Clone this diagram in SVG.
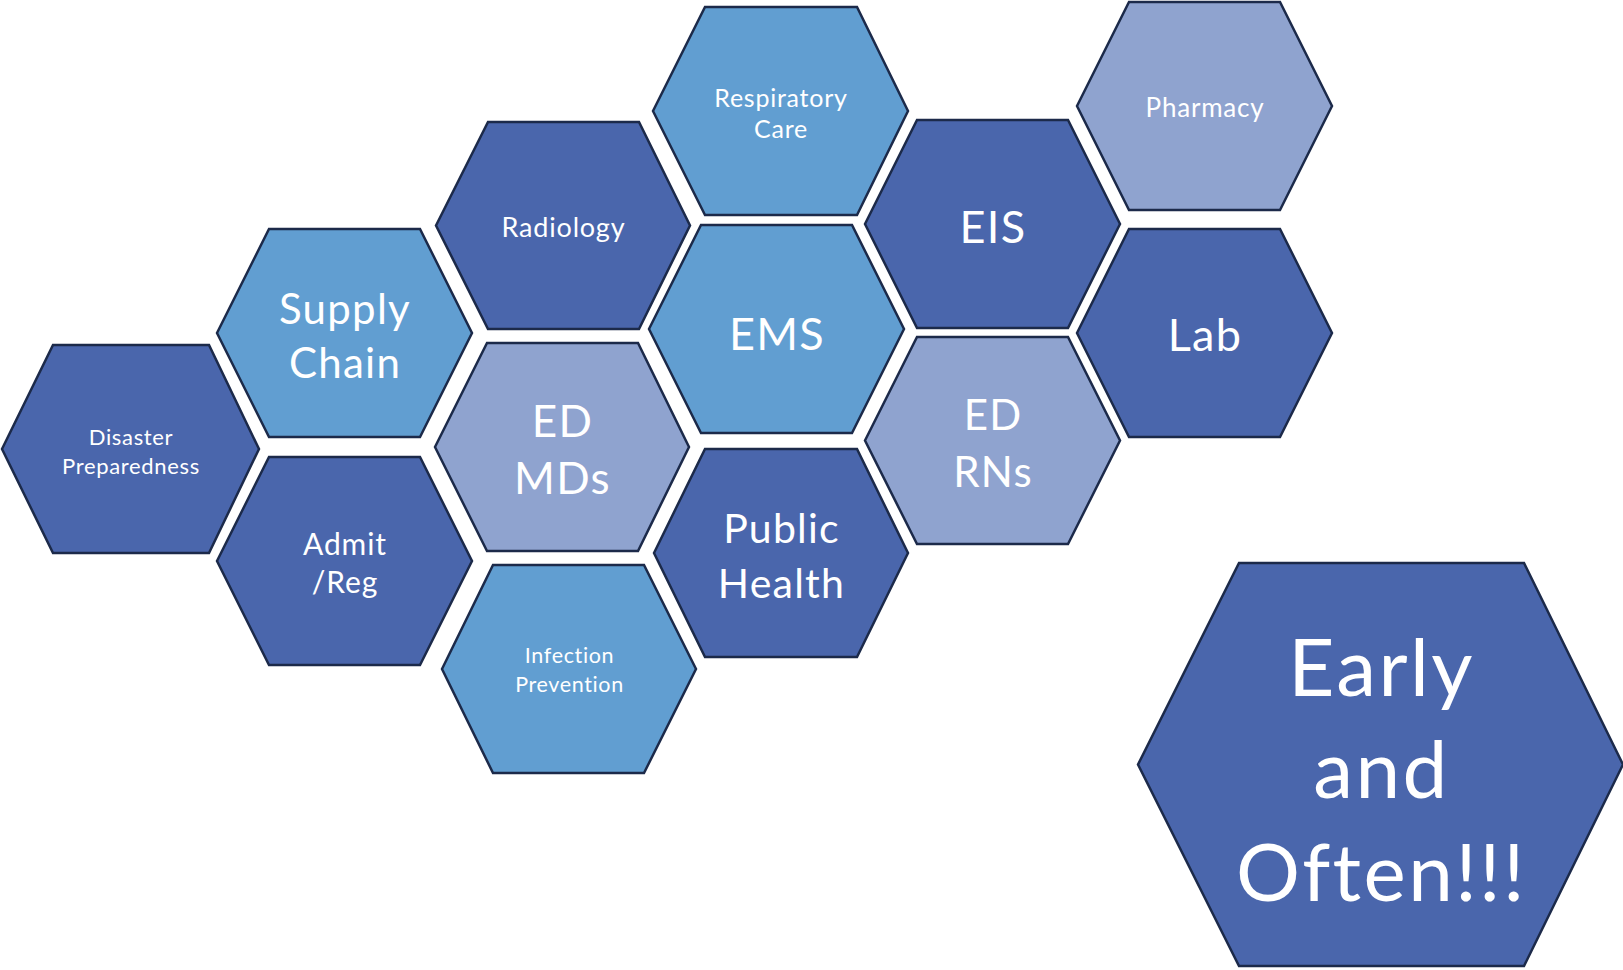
<svg xmlns="http://www.w3.org/2000/svg" width="1623" height="970" viewBox="0 0 1623 970">
<style>
.hex{stroke:#1C2A4A;stroke-width:2.5;stroke-linejoin:miter}
.dk{fill:#4A66AC}
.lt{fill:#619ED1}
.lv{fill:#8FA3CF}
text{font-family:Lato,"Open Sans","Liberation Sans",sans-serif;fill:#FFFFFF;text-anchor:middle;letter-spacing:0.03em}
</style>
<rect width="1623" height="970" fill="#FFFFFF"/>
<g id="connectors"></g>
<g id="respiratory-care">
<polygon class="hex lt" points="653,111 705,7 857,7 908,111 857,215 705,215"/>
<text x="781" y="107" font-size="25">Respiratory</text>
<text x="781" y="138" font-size="25">Care</text>
</g>
<g id="pharmacy">
<polygon class="hex lv" points="1077,106 1129,2 1280,2 1332,106 1280,210 1129,210"/>
<text x="1205" y="117" font-size="26">Pharmacy</text>
</g>
<g id="radiology">
<polygon class="hex dk" points="436,225.5 488,122 639,122 690,225.5 639,329 488,329"/>
<text x="563.5" y="237" font-size="27">Radiology</text>
</g>
<g id="eis">
<polygon class="hex dk" points="865,224 917,120 1068,120 1120,224 1068,328 917,328"/>
<text x="993" y="243" font-size="45">EIS</text>
</g>
<g id="supply-chain">
<polygon class="hex lt" points="217,333 269,229 420,229 472,333 420,437 269,437"/>
<text x="345" y="324" font-size="42">Supply</text>
<text x="345" y="378" font-size="42">Chain</text>
</g>
<g id="ems">
<polygon class="hex lt" points="649,329 701,225 852,225 904,329 852,433 701,433"/>
<text x="777" y="350" font-size="45">EMS</text>
</g>
<g id="lab">
<polygon class="hex dk" points="1077,333 1129,229 1280,229 1332,333 1280,437 1129,437"/>
<text x="1205" y="351" font-size="45">Lab</text>
</g>
<g id="disaster-preparedness">
<polygon class="hex dk" points="2,449 53,345 209,345 259,449 209,553 53,553"/>
<text x="131" y="445" font-size="22">Disaster</text>
<text x="131" y="474" font-size="22">Preparedness</text>
</g>
<g id="ed-mds">
<polygon class="hex lv" points="435,447 487,343 638,343 689,447 638,551 487,551"/>
<text x="562.5" y="437" font-size="44">ED</text>
<text x="562.5" y="494" font-size="44">MDs</text>
</g>
<g id="ed-rns">
<polygon class="hex lv" points="865,440.5 917,337 1068,337 1120,440.5 1068,544 917,544"/>
<text x="993" y="430" font-size="42">ED</text>
<text x="993" y="487" font-size="42">RNs</text>
</g>
<g id="admit-reg">
<polygon class="hex dk" points="217,561 269,457 420,457 472,561 420,665 269,665"/>
<text x="345" y="555" font-size="30">Admit</text>
<text x="345" y="593" font-size="30">/Reg</text>
</g>
<g id="public-health">
<polygon class="hex dk" points="654,553 705,449 857,449 908,553 857,657 705,657"/>
<text x="781.5" y="543" font-size="41">Public</text>
<text x="781.5" y="598" font-size="41">Health</text>
</g>
<g id="infection-prevention">
<polygon class="hex lt" points="442,669 493,565 644,565 696,669 644,773 493,773"/>
<text x="569.5" y="663" font-size="21.5">Infection</text>
<text x="569.5" y="692" font-size="21.5">Prevention</text>
</g>
<g id="early-and-often">
<polygon class="hex dk" points="1138,764.5 1239,563 1524,563 1623,764.5 1524,966 1239,966"/>
<text x="1381.5" y="696" font-size="80">Early</text>
<text x="1381.5" y="798" font-size="80">and</text>
<text x="1381.5" y="901" font-size="80">Often!!!</text>
</g>
</svg>
